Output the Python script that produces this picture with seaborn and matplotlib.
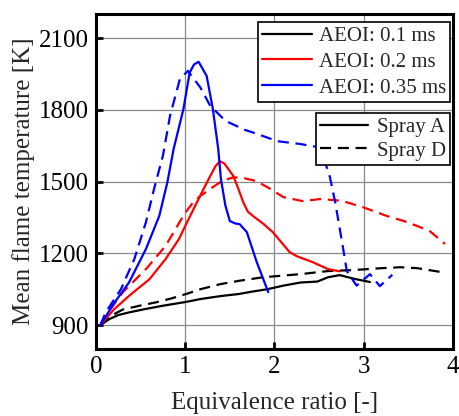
import matplotlib
matplotlib.use("Agg")
import matplotlib.pyplot as plt
import seaborn as sns
import pandas as pd
from matplotlib.lines import Line2D

# ---- data ----
a01_x = [0.05, 0.15, 0.25, 0.37, 0.55, 0.75, 1.01, 1.17, 1.39, 1.6, 1.75, 1.92, 2.1, 2.29, 2.48, 2.6, 2.73, 2.9, 3.07]
a01_y = [900, 925, 942, 953, 967, 981, 997, 1009, 1021, 1030, 1040, 1050, 1065, 1078, 1082, 1100, 1109, 1093, 1080]
d01_x = [0.05, 0.15, 0.3, 0.5, 0.67, 0.85, 1.01, 1.17, 1.39, 1.6, 1.87, 2.29, 2.6, 2.88, 3.2, 3.41, 3.6, 3.88]
d01_y = [900, 935, 965, 982, 995, 1012, 1030, 1050, 1071, 1085, 1100, 1113, 1126, 1130, 1138, 1142, 1138, 1121]

a02_x = [0.05, 0.2, 0.37, 0.6, 0.78, 0.93, 1.01, 1.1, 1.2, 1.28, 1.34, 1.39, 1.44, 1.54, 1.6, 1.65, 1.7, 1.76, 1.87, 1.98, 2.08, 2.17, 2.25, 2.43, 2.6, 2.73]
a02_y = [900, 965, 1022, 1092, 1176, 1260, 1322, 1390, 1465, 1523, 1565, 1585, 1575, 1523, 1465, 1414, 1375, 1356, 1325, 1289, 1245, 1205, 1188, 1163, 1134, 1125]
d02_x = [0.05, 0.15, 0.3, 0.56, 0.78, 0.99, 1.09, 1.17, 1.31, 1.41, 1.54, 1.65, 1.8, 1.95, 2.1, 2.32, 2.51, 2.75, 2.99, 3.26, 3.45, 3.6, 3.74, 3.91]
d02_y = [900, 960, 1037, 1134, 1231, 1364, 1414, 1440, 1477, 1502, 1518, 1515, 1502, 1470, 1435, 1418, 1427, 1420, 1393, 1356, 1335, 1314, 1293, 1239]

a035_x = [0.05, 0.2, 0.37, 0.56, 0.71, 0.8, 0.87, 0.98, 1.05, 1.1, 1.15, 1.24, 1.31, 1.37, 1.4, 1.45, 1.5, 1.56, 1.61, 1.65, 1.69, 1.8, 1.93]
a035_y = [900, 990, 1078, 1218, 1357, 1497, 1636, 1803, 1956, 1990, 2001, 1942, 1803, 1636, 1511, 1400, 1335, 1325, 1322, 1305, 1289, 1165, 1038]
d035_x = [0.05, 0.11, 0.28, 0.43, 0.56, 0.65, 0.75, 0.83, 0.94, 1.03, 1.17, 1.28, 1.45, 1.67, 1.8, 2.03, 2.29, 2.49, 2.55, 2.62, 2.68, 2.77, 2.81, 2.92, 3.07, 3.18, 3.32]
d035_y = [900, 954, 1050, 1176, 1330, 1468, 1608, 1775, 1928, 1963, 1893, 1817, 1754, 1716, 1700, 1669, 1657, 1644, 1600, 1520, 1414, 1218, 1126, 1065, 1113, 1063, 1110]

aeoi_labels = ["AEOI: 0.1 ms", "AEOI: 0.2 ms", "AEOI: 0.35 ms"]
spray_labels = ["Spray A", "Spray D"]
colors = ["black", "red", "blue"]

series = [
    (a01_x, a01_y, aeoi_labels[0], spray_labels[0]),
    (d01_x, d01_y, aeoi_labels[0], spray_labels[1]),
    (a02_x, a02_y, aeoi_labels[1], spray_labels[0]),
    (d02_x, d02_y, aeoi_labels[1], spray_labels[1]),
    (a035_x, a035_y, aeoi_labels[2], spray_labels[0]),
    (d035_x, d035_y, aeoi_labels[2], spray_labels[1]),
]
frames = []
for i, (xs, ys, a, s) in enumerate(series):
    frames.append(pd.DataFrame({"phi": xs, "T": ys, "AEOI": a, "Spray": s, "id": i}))
df = pd.concat(frames, ignore_index=True)

sns.set_theme(style="ticks")
plt.rcParams["font.family"] = ["Liberation Serif", "DejaVu Serif"]

fig = plt.figure(figsize=(4.59, 4.16), dpi=100)
ax = fig.add_axes([0.209, 0.161, 0.778, 0.805])

palette = dict(zip(aeoi_labels, colors))
dashes = {spray_labels[0]: "", spray_labels[1]: (5, 3)}
sns.lineplot(data=df, x="phi", y="T", hue="AEOI", style="Spray", units="id",
             estimator=None, palette=palette, dashes=dashes, sort=False,
             linewidth=1.6, legend=False, ax=ax)

ax.set_xlim(0, 4)
ax.set_ylim(800, 2200)
ax.set_xticks([0, 1, 2, 3, 4])
ax.set_yticks([900, 1200, 1500, 1800, 2100])
ax.grid(True, color="#888888", linewidth=0.9)
ax.set_axisbelow(True)
for sp in ax.spines.values():
    sp.set_linewidth(2.2)
    sp.set_color("black")
ax.tick_params(direction="in", length=5, width=2, labelsize=18, colors="black",
               top=False, right=False, pad=5)
ax.set_xlabel("Equivalence ratio [-]", fontsize=18, labelpad=10)
ax.set_ylabel("Mean flame temperature [K]", fontsize=18, labelpad=3)

h1 = [Line2D([], [], color=c, lw=1.6) for c in colors]
leg1 = ax.legend(h1, aeoi_labels, loc="upper right", bbox_to_anchor=(0.9916, 0.976),
                 fontsize=15, frameon=True, fancybox=False, edgecolor="black",
                 framealpha=1, handlelength=2.4, handletextpad=0.3, borderpad=0.2,
                 labelspacing=0.3, borderaxespad=0.0)
leg1.get_frame().set_linewidth(1.2)
ax.add_artist(leg1)
h2 = [Line2D([], [], color="black", lw=1.6), Line2D([], [], color="black", lw=1.6, dashes=(5, 3))]
leg2 = ax.legend(h2, spray_labels, loc="upper right", bbox_to_anchor=(0.9916, 0.7045),
                 fontsize=15, frameon=True, fancybox=False, edgecolor="black",
                 framealpha=1, handlelength=2.3, handletextpad=0.4, borderpad=0.2,
                 labelspacing=0.2, borderaxespad=0.0)
leg2.get_frame().set_linewidth(1.2)

fig.savefig("out.png", dpi=100)
